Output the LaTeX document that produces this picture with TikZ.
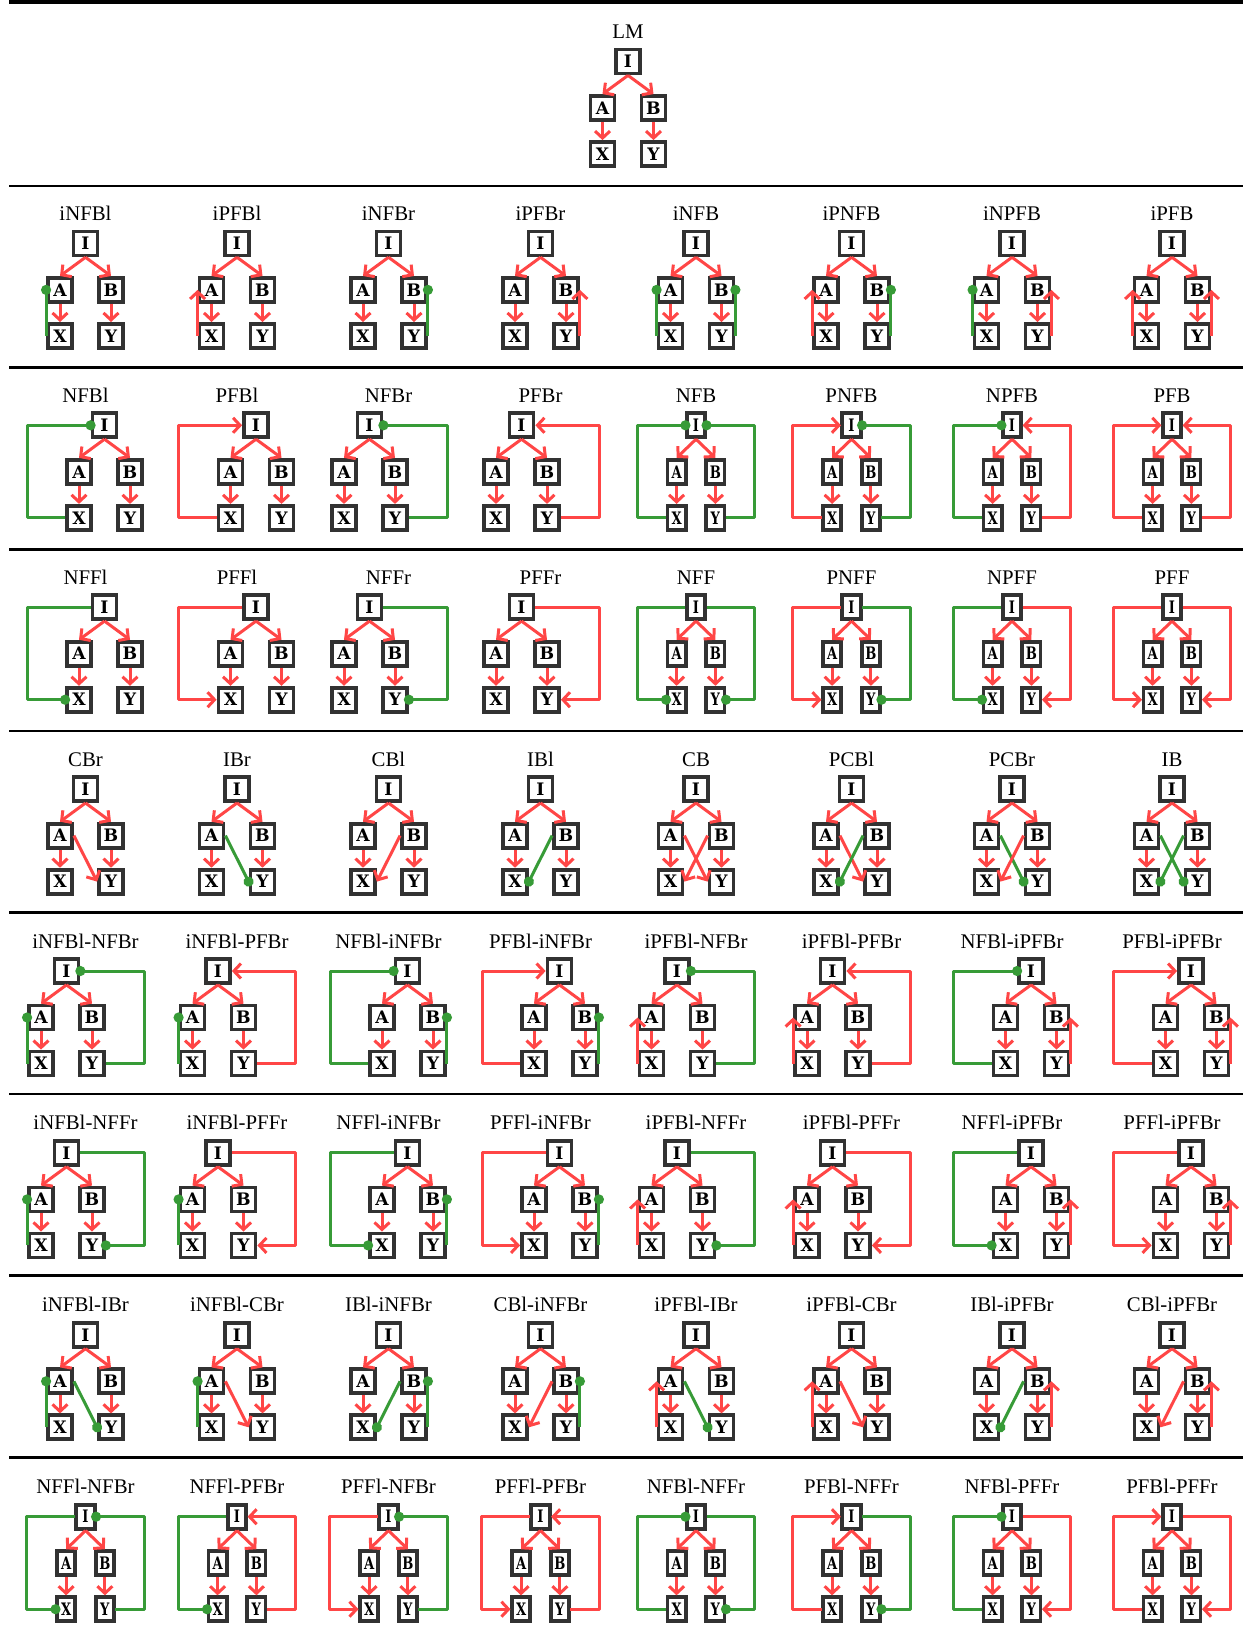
\documentclass[tikz,border=0pt]{standalone}
\usepackage{fontspec}
\setmainfont{Liberation Serif}
\newfontfamily\boxfont{DejaVu Serif}
\usetikzlibrary{arrows.meta}
\definecolor{mred}{RGB}{255,70,70}
\definecolor{mgreen}{RGB}{55,155,55}
\definecolor{mbox}{RGB}{50,50,50}
\tikzset{
 bx/.style={draw=mbox, line width=1.9pt, fill=white, minimum width=12pt, minimum height=12pt, inner sep=0pt, font=\boxfont\fontsize{8.6}{8.6}\selectfont\bfseries, transform shape},
 ttl/.style={anchor=base, font=\fontsize{10.4}{12}\selectfont, inner sep=0pt},
 pa/.style={draw=mred, line width=1.5pt, line join=round, -{Straight Barb[length=3.5pt,width=7.5pt]}},
 ng/.style={draw=mgreen, line width=1.5pt, line join=round, -{Circle[length=5pt]}, shorten >=-2.5pt},
 cellN/.style={}, cellL/.style={xshift=9.5pt}, cellR/.style={xshift=-9.5pt}, cellB/.style={xscale=0.761},
 rule/.style={draw=black, line width=1.3pt}
}
\newcommand\sideL[1]{\draw[#1] (X.west) -- (A.west);}
\newcommand\sideR[1]{\draw[#1] (Y.east) -- (B.east);}
\newcommand\fbL[1]{\draw[#1] (X.west) -- (LB) -- (LT) -- (I.west);}
\newcommand\fbR[1]{\draw[#1] (Y.east) -- (RB) -- (RT) -- (I.east);}
\newcommand\ffL[1]{\draw[#1] (I.west) -- (LT) -- (LB) -- (X.west);}
\newcommand\ffR[1]{\draw[#1] (I.east) -- (RT) -- (RB) -- (Y.east);}
\newcommand\crAY[1]{\draw[#1] (A.east) -- (Y.west);}
\newcommand\crBX[1]{\draw[#1] (B.west) -- (X.east);}
\newcommand\cell[6]{%
 \begin{scope}[name prefix=#1-]
  \pgfmathsetmacro\mycy{61.5+181.9*#3}
  \node[ttl] (T) at (#2,\mycy-23) {#4};
  \begin{scope}[shift={(#2,\mycy)}, #5]
   \node[bx] (I) at (0,0) {I};
   \node[bx] (A) at (-25.5,46.5) {A};
   \node[bx] (B) at (25.5,46.5) {B};
   \node[bx] (X) at (-25.5,92.5) {X};
   \node[bx] (Y) at (25.5,92.5) {Y};
   \coordinate (LT) at (-77.5,0); \coordinate (LB) at (-77.5,92.5);
   \coordinate (RT) at (77.5,0); \coordinate (RB) at (77.5,92.5);
   \draw[pa] (I.south) -- (A.north);
   \draw[pa] (I.south) -- (B.north);
   \draw[pa] (A.south) -- (X.north);
   \draw[pa] (B.south) -- (Y.north);
   #6
  \end{scope}
 \end{scope}}
\begin{document}
\begin{tikzpicture}[x=0.5pt,y=-0.5pt]
\useasboundingbox (0,0) rectangle (1243,1633);
\draw[rule, line width=1.8pt] (9,2) -- (1243,2);
\foreach \r in {1,...,8} {\draw[rule] (9,{4.5+181.6*\r}) -- (1243,{4.5+181.6*\r});}
% row 0
\cell{c00}{628}{0}{LM}{cellN}{}
% row 1
\cell{c11}{85.5}{1}{iNFBl}{cellN}{\sideL{ng}}
\cell{c12}{237}{1}{iPFBl}{cellN}{\sideL{pa}}
\cell{c13}{388.5}{1}{iNFBr}{cellN}{\sideR{ng}}
\cell{c14}{540.5}{1}{iPFBr}{cellN}{\sideR{pa}}
\cell{c15}{696}{1}{iNFB}{cellN}{\sideL{ng}\sideR{ng}}
\cell{c16}{851.5}{1}{iPNFB}{cellN}{\sideL{pa}\sideR{ng}}
\cell{c17}{1012}{1}{iNPFB}{cellN}{\sideL{ng}\sideR{pa}}
\cell{c18}{1172}{1}{iPFB}{cellN}{\sideL{pa}\sideR{pa}}
% row 2
\cell{c21}{85.5}{2}{NFBl}{cellL}{\fbL{ng}}
\cell{c22}{237}{2}{PFBl}{cellL}{\fbL{pa}}
\cell{c23}{388.5}{2}{NFBr}{cellR}{\fbR{ng}}
\cell{c24}{540.5}{2}{PFBr}{cellR}{\fbR{pa}}
\cell{c25}{696}{2}{NFB}{cellB}{\fbL{ng}\fbR{ng}}
\cell{c26}{851.5}{2}{PNFB}{cellB}{\fbL{pa}\fbR{ng}}
\cell{c27}{1012}{2}{NPFB}{cellB}{\fbL{ng}\fbR{pa}}
\cell{c28}{1172}{2}{PFB}{cellB}{\fbL{pa}\fbR{pa}}
% row 3
\cell{c31}{85.5}{3}{NFFl}{cellL}{\ffL{ng}}
\cell{c32}{237}{3}{PFFl}{cellL}{\ffL{pa}}
\cell{c33}{388.5}{3}{NFFr}{cellR}{\ffR{ng}}
\cell{c34}{540.5}{3}{PFFr}{cellR}{\ffR{pa}}
\cell{c35}{696}{3}{NFF}{cellB}{\ffL{ng}\ffR{ng}}
\cell{c36}{851.5}{3}{PNFF}{cellB}{\ffL{pa}\ffR{ng}}
\cell{c37}{1012}{3}{NPFF}{cellB}{\ffL{ng}\ffR{pa}}
\cell{c38}{1172}{3}{PFF}{cellB}{\ffL{pa}\ffR{pa}}
% row 4
\cell{c41}{85.5}{4}{CBr}{cellN}{\crAY{pa}}
\cell{c42}{237}{4}{IBr}{cellN}{\crAY{ng}}
\cell{c43}{388.5}{4}{CBl}{cellN}{\crBX{pa}}
\cell{c44}{540.5}{4}{IBl}{cellN}{\crBX{ng}}
\cell{c45}{696}{4}{CB}{cellN}{\crAY{pa}\crBX{pa}}
\cell{c46}{851.5}{4}{PCBl}{cellN}{\crAY{pa}\crBX{ng}}
\cell{c47}{1012}{4}{PCBr}{cellN}{\crAY{ng}\crBX{pa}}
\cell{c48}{1172}{4}{IB}{cellN}{\crAY{ng}\crBX{ng}}
% row 5
\cell{c51}{85.5}{5}{iNFBl-NFBr}{cellR}{\sideL{ng}\fbR{ng}}
\cell{c52}{237}{5}{iNFBl-PFBr}{cellR}{\sideL{ng}\fbR{pa}}
\cell{c53}{388.5}{5}{NFBl-iNFBr}{cellL}{\fbL{ng}\sideR{ng}}
\cell{c54}{540.5}{5}{PFBl-iNFBr}{cellL}{\fbL{pa}\sideR{ng}}
\cell{c55}{696}{5}{iPFBl-NFBr}{cellR}{\sideL{pa}\fbR{ng}}
\cell{c56}{851.5}{5}{iPFBl-PFBr}{cellR}{\sideL{pa}\fbR{pa}}
\cell{c57}{1012}{5}{NFBl-iPFBr}{cellL}{\fbL{ng}\sideR{pa}}
\cell{c58}{1172}{5}{PFBl-iPFBr}{cellL}{\fbL{pa}\sideR{pa}}
% row 6
\cell{c61}{85.5}{6}{iNFBl-NFFr}{cellR}{\sideL{ng}\ffR{ng}}
\cell{c62}{237}{6}{iNFBl-PFFr}{cellR}{\sideL{ng}\ffR{pa}}
\cell{c63}{388.5}{6}{NFFl-iNFBr}{cellL}{\ffL{ng}\sideR{ng}}
\cell{c64}{540.5}{6}{PFFl-iNFBr}{cellL}{\ffL{pa}\sideR{ng}}
\cell{c65}{696}{6}{iPFBl-NFFr}{cellR}{\sideL{pa}\ffR{ng}}
\cell{c66}{851.5}{6}{iPFBl-PFFr}{cellR}{\sideL{pa}\ffR{pa}}
\cell{c67}{1012}{6}{NFFl-iPFBr}{cellL}{\ffL{ng}\sideR{pa}}
\cell{c68}{1172}{6}{PFFl-iPFBr}{cellL}{\ffL{pa}\sideR{pa}}
% row 7
\cell{c71}{85.5}{7}{iNFBl-IBr}{cellN}{\sideL{ng}\crAY{ng}}
\cell{c72}{237}{7}{iNFBl-CBr}{cellN}{\sideL{ng}\crAY{pa}}
\cell{c73}{388.5}{7}{IBl-iNFBr}{cellN}{\crBX{ng}\sideR{ng}}
\cell{c74}{540.5}{7}{CBl-iNFBr}{cellN}{\crBX{pa}\sideR{ng}}
\cell{c75}{696}{7}{iPFBl-IBr}{cellN}{\sideL{pa}\crAY{ng}}
\cell{c76}{851.5}{7}{iPFBl-CBr}{cellN}{\sideL{pa}\crAY{pa}}
\cell{c77}{1012}{7}{IBl-iPFBr}{cellN}{\crBX{ng}\sideR{pa}}
\cell{c78}{1172}{7}{CBl-iPFBr}{cellN}{\crBX{pa}\sideR{pa}}
% row 8
\cell{c81}{85.5}{8}{NFFl-NFBr}{cellB}{\ffL{ng}\fbR{ng}}
\cell{c82}{237}{8}{NFFl-PFBr}{cellB}{\ffL{ng}\fbR{pa}}
\cell{c83}{388.5}{8}{PFFl-NFBr}{cellB}{\ffL{pa}\fbR{ng}}
\cell{c84}{540.5}{8}{PFFl-PFBr}{cellB}{\ffL{pa}\fbR{pa}}
\cell{c85}{696}{8}{NFBl-NFFr}{cellB}{\fbL{ng}\ffR{ng}}
\cell{c86}{851.5}{8}{PFBl-NFFr}{cellB}{\fbL{pa}\ffR{ng}}
\cell{c87}{1012}{8}{NFBl-PFFr}{cellB}{\fbL{ng}\ffR{pa}}
\cell{c88}{1172}{8}{PFBl-PFFr}{cellB}{\fbL{pa}\ffR{pa}}
\end{tikzpicture}
\end{document}
